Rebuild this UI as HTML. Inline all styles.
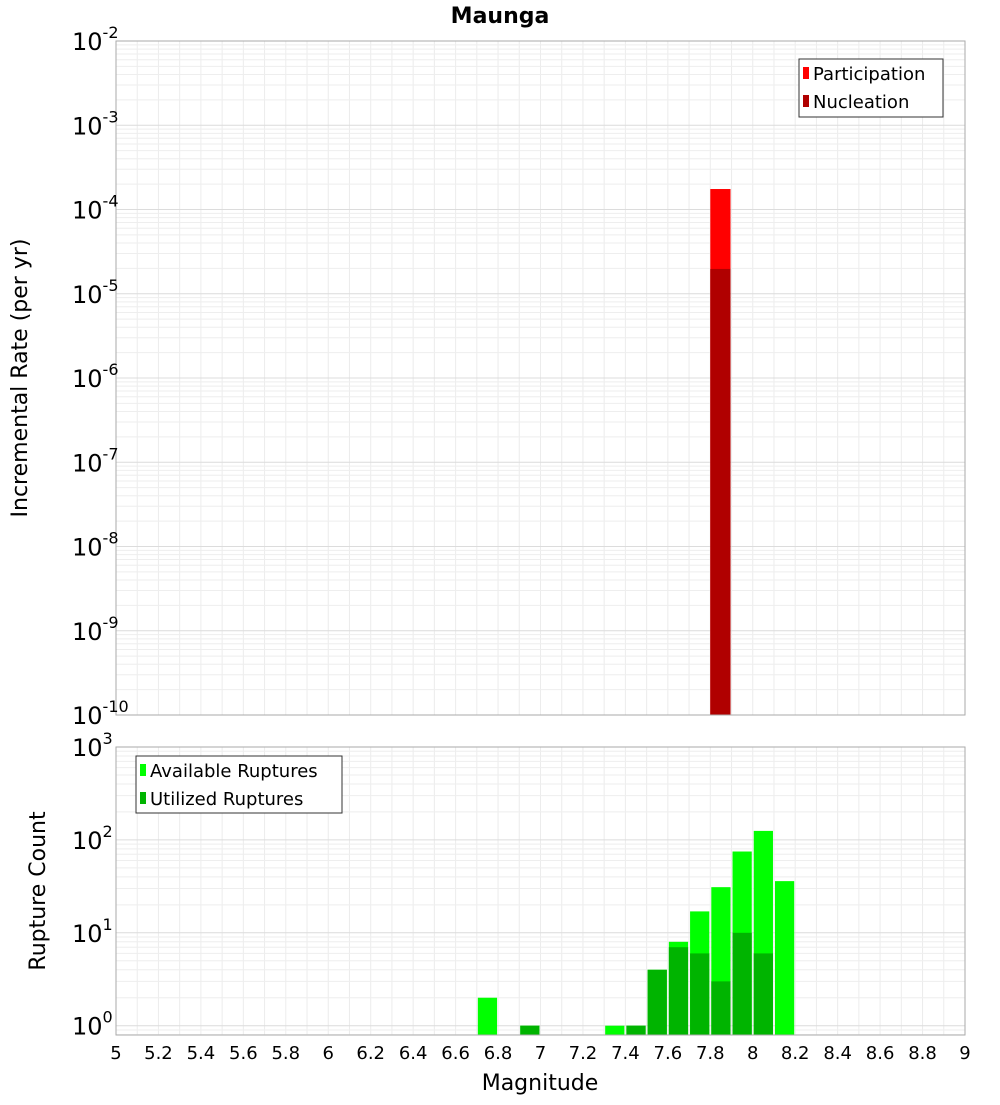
<!DOCTYPE html>
<html><head><meta charset="utf-8"><style>
body{margin:0;background:#fff;font-family:"Liberation Sans","DejaVu Sans",sans-serif}
svg text{font-family:"DejaVu Sans","Liberation Sans",sans-serif}
</style></head><body>
<svg id="c" width="1000" height="1100" xmlns="http://www.w3.org/2000/svg"></svg>
<script>
const xTicks=[5,5.2,5.4,5.6,5.8,6,6.2,6.4,6.6,6.8,7,7.2,7.4,7.6,7.8,8,8.2,8.4,8.6,8.8,9];
const topMags=[7.85];
const participation=[1.75e-4];
const nucleation=[1.97e-5];
const botMags=[6.75,6.95,7.35,7.45,7.55,7.65,7.75,7.85,7.95,8.05,8.15];
const available=[2,1,1,1,4,8,17,31,75,125,36];
const utilized=[0,1,0,1,4,7,6,3,10,6,0];
const topExp=[-10,-9,-8,-7,-6,-5,-4,-3,-2];
const botExp=[0,1,2,3];

const svg=document.getElementById('c');const NS='http://www.w3.org/2000/svg';
function el(t,a,p){const e=document.createElementNS(NS,t);for(const k in a)e.setAttribute(k,a[k]);(p||svg).appendChild(e);return e;}
const X0=116,X1=965;
const xs=m=>X0+(m-5)/4*(X1-X0);
const T0=41,T1=715;
const yt=v=>T1-(Math.log10(v)+10)/8*(T1-T0);
const B0=747,B1=1035,Bmin=-0.1;
const yb=v=>B1-(Math.log10(v)-Bmin)/(3-Bmin)*(B1-B0);

function grid(top,bot,lo,hi,yf,name){
  const g=el('g',{});
  for(let m=5;m<=9.001;m+=0.1){el('line',{x1:xs(m),x2:xs(m),y1:top,y2:bot,stroke:'#ececec','stroke-width':1},g);}
  for(let e=lo;e<hi;e++)for(let k=1;k<10;k++){const y=yf(k*Math.pow(10,e));if(y<top||y>bot)continue;
    el('line',{x1:X0,x2:X1,y1:y,y2:y,stroke:k==1?'#dcdcdc':'#eeeeee','stroke-width':1},g);}
}
el('text',{x:500,y:23,'text-anchor':'middle','font-size':22,'font-weight':'bold'}).textContent='Maunga';
// top panel
grid(T0,T1,-10,-2,yt,'top-grid');
topMags.forEach((m,i)=>{
  const r=el('rect',{x:xs(m-0.05),width:xs(m+0.05)-xs(m-0.05)-1,y:yt(participation[i]),height:T1-yt(participation[i]),fill:'#ff0000'});
  
  const n=el('rect',{x:xs(m-0.05),width:xs(m+0.05)-xs(m-0.05)-1,y:yt(nucleation[i]),height:T1-yt(nucleation[i]),fill:'#b00000'});
  
});
el('rect',{x:X0,y:T0,width:X1-X0,height:T1-T0,fill:'none',stroke:'#aaa'});
topExp.forEach(e=>{const t=el('text',{x:72,y:yt(Math.pow(10,e))+9,'font-size':24});
  t.innerHTML='10<tspan dy="-12" font-size="16">'+e+'</tspan>';});
const yl=el('text',{x:27,y:378,'font-size':22,'text-anchor':'middle',transform:'rotate(-90 27 378)'});
yl.textContent='Incremental Rate (per yr)';
const lg1=el('g',{});
el('rect',{x:799,y:59,width:144,height:58,fill:'#fff',stroke:'#333'},lg1);
el('rect',{x:803,y:67,width:6,height:12,fill:'#ff0000'},lg1);
el('rect',{x:803,y:95,width:6,height:12,fill:'#b00000'},lg1);
el('text',{x:813,y:80,'font-size':18},lg1).textContent='Participation';
el('text',{x:813,y:108,'font-size':18},lg1).textContent='Nucleation';
// bottom
grid(B0,B1,-1,3,yb,'bottom-grid');
botMags.forEach((m,i)=>{
  const w=xs(m+0.05)-xs(m-0.05)-2,x=xs(m-0.05)+1;
  if(available[i]>0){const r=el('rect',{x:x,width:w,y:yb(available[i]),height:B1-yb(available[i]),fill:'#00ff00'});
    }
  if(utilized[i]>0){const r=el('rect',{x:x,width:w,y:yb(utilized[i]),height:B1-yb(utilized[i]),fill:'#00b400'});
    }
});
el('rect',{x:X0,y:B0,width:X1-X0,height:B1-B0,fill:'none',stroke:'#aaa'});
botExp.forEach(e=>{const t=el('text',{x:72,y:yb(Math.pow(10,e))+9,'font-size':24});
  t.innerHTML='10<tspan dy="-12" font-size="16">'+e+'</tspan>';});
const yl2=el('text',{x:45,y:891,'font-size':22,'text-anchor':'middle',transform:'rotate(-90 45 891)'});
yl2.textContent='Rupture Count';
const lg2=el('g',{});
el('rect',{x:136,y:756,width:206,height:57,fill:'#fff',stroke:'#333'},lg2);
el('rect',{x:140,y:764,width:6,height:12,fill:'#00ff00'},lg2);
el('rect',{x:140,y:792,width:6,height:12,fill:'#00b400'},lg2);
el('text',{x:150,y:777,'font-size':18},lg2).textContent='Available Ruptures';
el('text',{x:150,y:805,'font-size':18},lg2).textContent='Utilized Ruptures';
xTicks.forEach(v=>{const t=el('text',{x:xs(v),y:1059,'font-size':18,'text-anchor':'middle'});t.textContent=String(v);});
const xl=el('text',{x:540,y:1090,'font-size':22,'text-anchor':'middle'});xl.textContent='Magnitude';

</script>
</body></html>
